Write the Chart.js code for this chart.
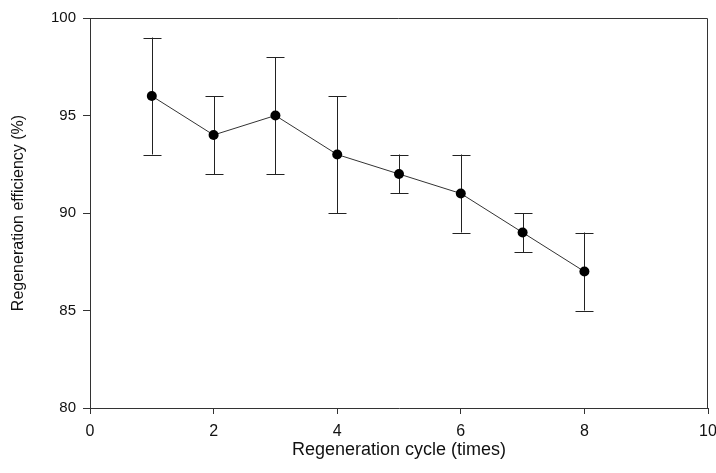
<!DOCTYPE html>
<html lang="en">
<head>
    <meta charset="UTF-8">
    <title>Regeneration efficiency</title>
    <script src="https://cdn.jsdelivr.net/npm/chart.js"></script>
    <style>
        html, body { margin: 0; padding: 0; background: #fff; }
        #wrap { width: 716px; height: 473px; }
    </style>
</head>
<body>
    <div id="wrap"><canvas id="chart" width="716" height="473"></canvas></div>

    <script>
        // data
        const cycles = [1, 2, 3, 4, 5, 6, 7, 8];
        const efficiency = [96, 94, 95, 93, 92, 91, 89, 87];
        const errLow = [93, 92, 92, 90, 91, 89, 88, 85];
        const errHigh = [99, 96, 98, 96, 93, 93, 90, 89];
        const xTicks = [0, 2, 4, 6, 8, 10];
        const yTicks = [80, 85, 90, 95, 100];

        const points = cycles.map((c, i) => ({ x: c, y: efficiency[i] }));

        // error bars + top/right frame
        const extras = {
            id: 'extras',
            beforeDatasetsDraw(chart) {
                const ctx = chart.ctx;
                const xs = chart.scales.x, ys = chart.scales.y;
                ctx.save();
                ctx.strokeStyle = '#222';
                ctx.lineWidth = 1;
                cycles.forEach((c, i) => {
                    const px = Math.round(xs.getPixelForValue(c)) + 0.5;
                    const lo = ys.getPixelForValue(errLow[i]);
                    const hi = ys.getPixelForValue(errHigh[i]);
                    ctx.beginPath();
                    ctx.moveTo(px, lo); ctx.lineTo(px, hi);
                    ctx.moveTo(px - 9, Math.round(lo) + 0.5); ctx.lineTo(px + 9, Math.round(lo) + 0.5);
                    ctx.moveTo(px - 9, Math.round(hi) + 0.5); ctx.lineTo(px + 9, Math.round(hi) + 0.5);
                    ctx.stroke();
                });
                const a = chart.chartArea;
                ctx.strokeStyle = '#333';
                ctx.beginPath();
                ctx.moveTo(a.left, a.top + 0.5); ctx.lineTo(a.right - 0.5, a.top + 0.5);
                ctx.lineTo(a.right - 0.5, a.bottom);
                ctx.stroke();
                ctx.restore();
            }
        };

        new Chart(document.getElementById('chart'), {
            type: 'scatter',
            data: {
                datasets: [{
                    data: points,
                    showLine: true,
                    borderColor: '#333',
                    borderWidth: 1,
                    pointRadius: 5,
                    pointBackgroundColor: '#000',
                    pointBorderColor: '#000',
                    pointBorderWidth: 0
                }]
            },
            options: {
                responsive: false,
                animation: false,
                layout: { padding: { top: 18, right: 8, left: 0, bottom: 0 } },
                plugins: { legend: { display: false }, tooltip: { enabled: false } },
                scales: {
                    x: {
                        type: 'linear',
                        min: 0, max: 10,
                        afterBuildTicks(s) { s.ticks = xTicks.map(v => ({ value: v })); },
                        afterFit(s) { s.height = 65; s.paddingLeft = 0; s.paddingRight = 0; },
                        grid: { drawOnChartArea: false, tickLength: 6, color: '#333', tickColor: '#333' },
                        border: { color: '#333', width: 1 },
                        ticks: {
                            color: '#111', padding: 8, maxRotation: 0,
                            font: { family: "'Liberation Sans', Arial, sans-serif", size: 16 }
                        },
                        title: {
                            display: true,
                            text: 'Regeneration cycle (times)',
                            color: '#111',
                            padding: { top: 0, bottom: 12 },
                            font: { family: "'Liberation Sans', Arial, sans-serif", size: 18 }
                        }
                    },
                    y: {
                        min: 80, max: 100,
                        afterBuildTicks(s) { s.ticks = yTicks.map(v => ({ value: v })); },
                        afterFit(s) { s.width = 90; s.paddingTop = 0; s.paddingBottom = 0; },
                        grid: { drawOnChartArea: false, tickLength: 7, color: '#333', tickColor: '#333' },
                        border: { color: '#333', width: 1 },
                        ticks: {
                            color: '#111', padding: 7,
                            font: { family: "'Liberation Sans', Arial, sans-serif", size: 15 }
                        },
                        title: {
                            display: true,
                            text: 'Regeneration efficiency (%)',
                            color: '#111',
                            padding: { top: 9, bottom: 0 },
                            font: { family: "'Liberation Sans', Arial, sans-serif", size: 16 }
                        }
                    }
                }
            },
            plugins: [extras]
        });
    </script>
</body>
</html>
